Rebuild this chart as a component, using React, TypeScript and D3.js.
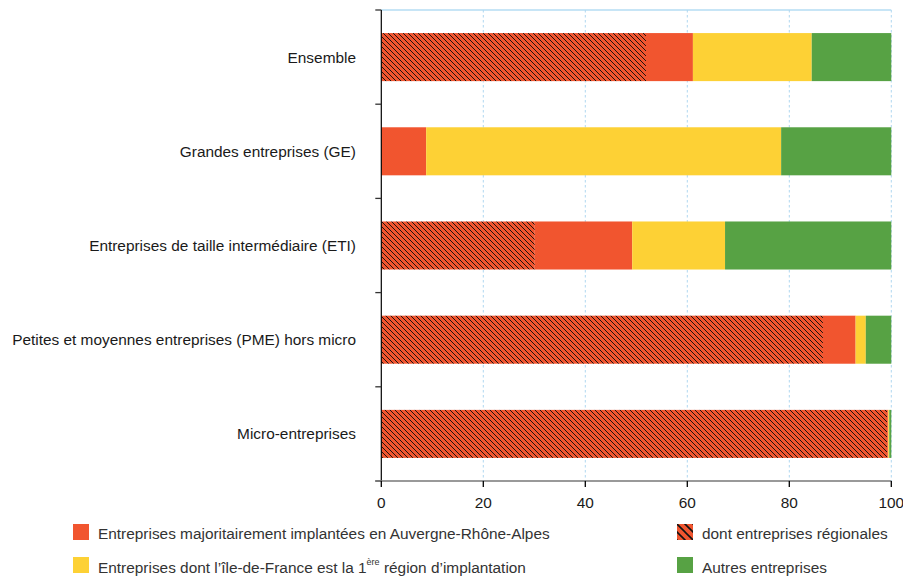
import React from "react";
import * as d3 from "d3";

const categories = [
  "Ensemble",
  "Grandes entreprises (GE)",
  "Entreprises de taille intermédiaire (ETI)",
  "Petites et moyennes entreprises (PME) hors micro",
  "Micro-entreprises",
];
// share of firms majoritairement implantées en Auvergne-Rhône-Alpes (total)
const majoritaires = [61.1, 8.8, 49.2, 93.0, 99.4];
// of which regional firms
const regionales = [51.9, 0, 30.1, 86.6, 99.2];
const ileDeFrance = [23.3, 69.6, 18.2, 2.0, 0.2];
const autres = [15.6, 21.6, 32.6, 5.0, 0.4];
const xTicks = [0, 20, 40, 60, 80, 100];

const RED = "#F1552F";
const YELLOW = "#FDD135";
const GREEN = "#57A244";

const W = 903;
const H = 576;
const left = 381.3;
const right = 891.3;
const top = 10;
const bottom = 481;

export default function App() {
  const x = d3.scaleLinear().domain([0, 100]).range([left, right]);
  const y = d3
    .scaleBand<string>()
    .domain(categories)
    .range([top, bottom])
    .paddingInner(0.49)
    .paddingOuter(0.245);
  const band = d3.scaleBand<string>().domain(categories).range([top, bottom]);

  const table = categories.map((c, i) => ({
    cat: c,
    reg: regionales[i],
    maj: majoritaires[i] - regionales[i],
    idf: ileDeFrance[i],
    aut: autres[i],
  }));
  const keys = ["reg", "maj", "idf", "aut"];
  const fills: Record<string, string> = {
    reg: "url(#hatch)",
    maj: RED,
    idf: YELLOW,
    aut: GREEN,
  };
  const series = d3.stack<any>().keys(keys)(table);

  const font = "'Liberation Sans', Arial, Helvetica, sans-serif";
  const fs = 15.4;

  return (
    <div style={{ position: "absolute", left: 0, top: 0 }}>
      <svg width={W} height={H} style={{ display: "block", fontFamily: font }}>
        <defs>
          <pattern id="hatch" patternUnits="userSpaceOnUse" width={5} height={5}>
            <rect width={5} height={5} fill={RED} />
            <path
              d="M0,0 L5,5 M-1,4 L1,6 M4,-1 L6,1"
              stroke="#1e120e"
              strokeWidth={1}
            />
          </pattern>
          <pattern id="hatchLegend" patternUnits="userSpaceOnUse" width={8} height={8} x={677} y={524}>
            <rect width={8} height={8} fill={RED} />
            <path d="M0,0 L8,8 M-2,6 L2,10 M6,-2 L10,2" stroke="#111" strokeWidth={1.6} />
          </pattern>
        </defs>

        {/* top line */}
        <line x1={left} x2={right} y1={top} y2={top} stroke="#B5DDF3" strokeWidth={1.5} />
        {/* grid */}
        {xTicks
          .filter((t) => t > 0)
          .map((t) => (
            <line
              key={t}
              x1={x(t)}
              x2={x(t)}
              y1={top}
              y2={bottom}
              stroke="#B0D8F0"
              strokeWidth={1}
              strokeDasharray="2.5,2.5"
            />
          ))}

        {/* bars */}
        {series.map((s) => (
          <g key={s.key} fill={fills[s.key]}>
            {s.map((d, i) => {
              const w = x(d[1]) - x(d[0]);
              if (w <= 0) return null;
              return (
                <rect
                  key={i}
                  x={x(d[0])}
                  y={y(categories[i])}
                  width={w}
                  height={y.bandwidth()}
                />
              );
            })}
          </g>
        ))}

        {/* y axis */}
        <line x1={left} x2={left} y1={top} y2={bottom} stroke="#000" strokeWidth={1.2} />
        {[...categories.map((c) => band(c)!), bottom].map((v, i) => (
          <line key={i} x1={left - 6} x2={left} y1={v} y2={v} stroke="#333" strokeWidth={1.3} />
        ))}
        {categories.map((c) => (
          <text
            key={c}
            x={356}
            y={band(c)! + band.bandwidth() / 2}
            textAnchor="end"
            dominantBaseline="central"
            fontSize={fs}
            fill="#1a1a1a"
          >
            {c}
          </text>
        ))}

        {/* x axis */}
        <line x1={left - 6} x2={right} y1={bottom} y2={bottom} stroke="#777" strokeWidth={1.6} />
        {xTicks.map((t) => (
          <g key={t}>
            <line x1={x(t)} x2={x(t)} y1={bottom} y2={bottom + 6} stroke="#000" strokeWidth={1.3} />
            <text
              x={x(t)}
              y={502}
              textAnchor="middle"
              dominantBaseline="central"
              fontSize={fs}
              fill="#1a1a1a"
            >
              {t}
            </text>
          </g>
        ))}

        {/* legend */}
        <g fontSize={fs} fill="#333">
          <rect x={73} y={524} width={16} height={16} fill={RED} />
          <text x={98} y={533} dominantBaseline="central">
            Entreprises majoritairement implantées en Auvergne-Rhône-Alpes
          </text>
          <rect x={73} y={557} width={16} height={16} fill={YELLOW} />
          <text x={98} y={567} dominantBaseline="central">
            Entreprises dont l’île-de-France est la 1
            <tspan fontSize={9} dy={-5}>ère</tspan>
            <tspan dy={5}> région d’implantation</tspan>
          </text>
          <rect x={677} y={524} width={16} height={16} fill="url(#hatchLegend)" />
          <text x={702} y={533} dominantBaseline="central">
            dont entreprises régionales
          </text>
          <rect x={677} y={557} width={16} height={16} fill={GREEN} />
          <text x={702} y={567} dominantBaseline="central">
            Autres entreprises
          </text>
        </g>
      </svg>
    </div>
  );
}
